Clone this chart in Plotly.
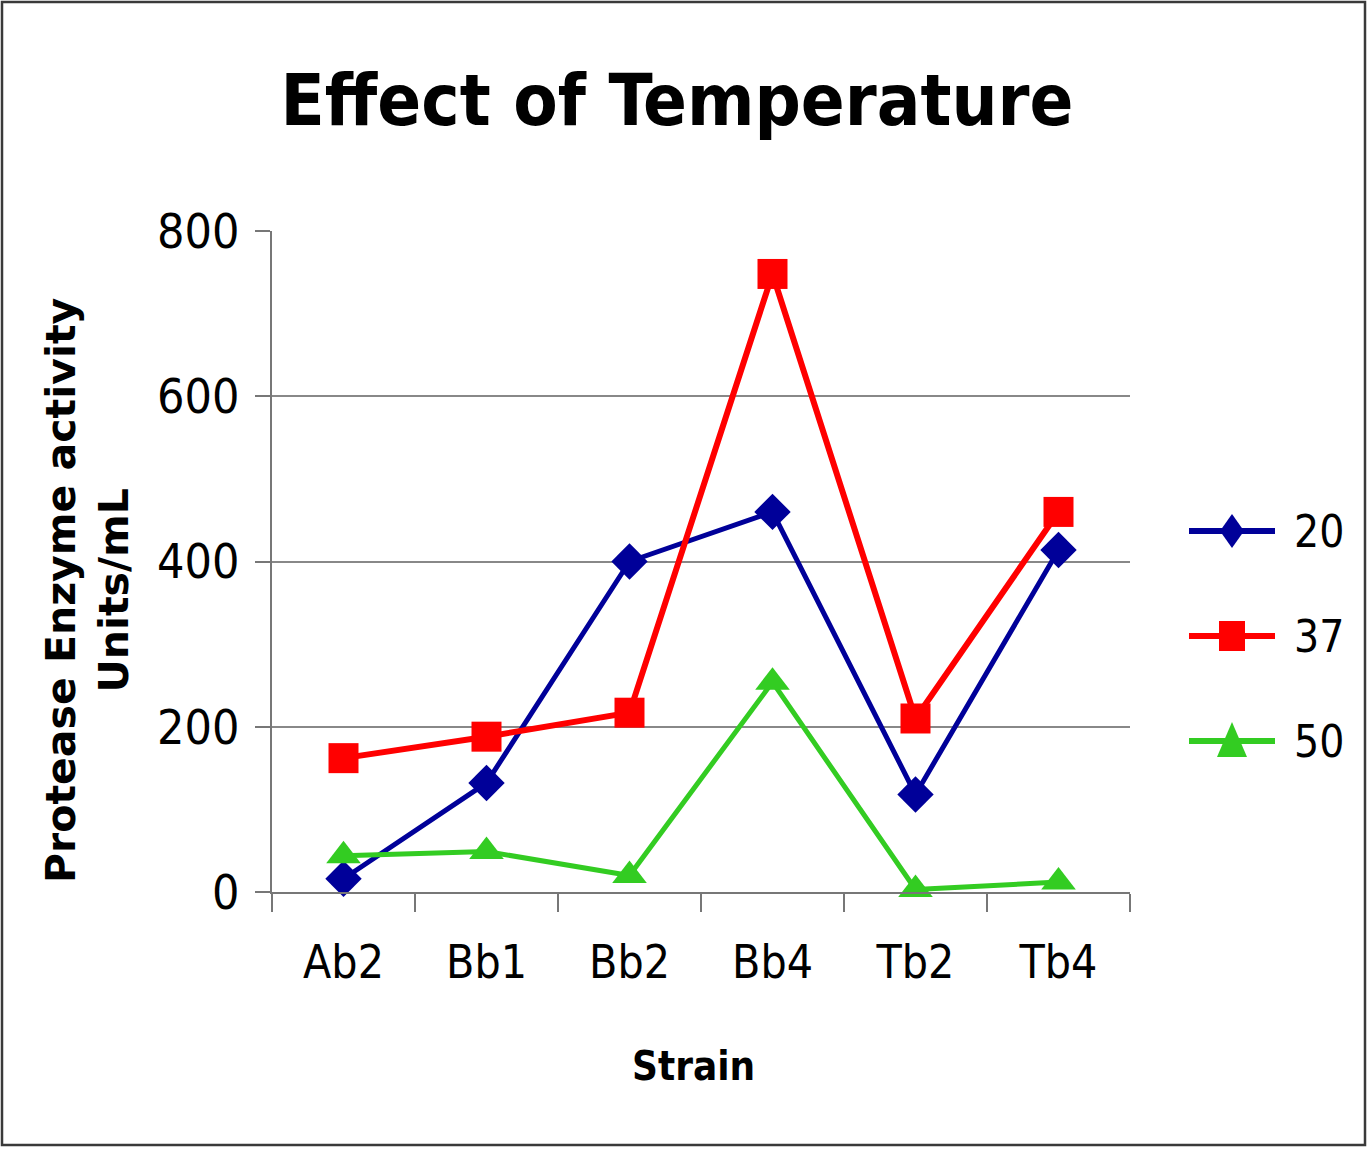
import plotly.graph_objects as go

strains = ["Ab2", "Bb1", "Bb2", "Bb4", "Tb2", "Tb4"]
t20 = [16, 132, 400, 460, 118, 414]
t37 = [162, 188, 217, 748, 210, 460]
t50 = [44, 49, 20, 254, 3, 12]
y_ticks = [0, 200, 400, 600, 800]
legend_names = ["20", "37", "50"]

W, H = 1368, 1149
L, R, T, B = 272, 238, 231, 257
pw, ph = W - L - R, H - T - B

def px(x):
    return (x - L) / pw

def py(y):
    return 1 - (y - T) / ph

COND = "DejaVu Sans Condensed, DejaVu Sans, sans-serif"
BOLD = "DejaVu Sans, sans-serif"

fig = go.Figure()
series = [
    ("20", t20, "#000099", "diamond", 28, 5),
    ("37", t37, "#ff0000", "square", 30, 6),
    ("50", t50, "#33cc22", "triangle-up", 30, 5),
]
for name, vals, col, sym, ms, lw in series:
    fig.add_trace(go.Scatter(
        x=strains, y=vals, name=name,
        mode="lines+markers",
        line=dict(color=col, width=lw),
        marker=dict(symbol=sym, size=ms, color=col, line=dict(width=0)),
        cliponaxis=False, showlegend=False,
    ))

# outer border
fig.add_shape(type="rect", xref="paper", yref="paper",
              x0=px(2), x1=px(W - 3), y0=py(H - 4), y1=py(2),
              line=dict(color="#3a3a3a", width=2.5))

# legend (drawn to match large legend symbols)
leg_y = [531, 636, 741]
for (name, vals, col, sym, ms, lw), cy in zip(series, leg_y):
    fig.add_shape(type="line", xref="paper", yref="paper",
                  x0=px(1189), x1=px(1275), y0=py(cy), y1=py(cy),
                  line=dict(color=col, width=6))
    cx = 1232
    if sym.startswith("diamond"):
        pts = [(cx, cy - 17), (cx + 12, cy), (cx, cy + 17), (cx - 12, cy)]
    elif sym == "square":
        pts = [(cx - 13, cy - 15), (cx + 13, cy - 15), (cx + 13, cy + 15), (cx - 13, cy + 15)]
    else:
        pts = [(cx, cy - 19), (cx + 15, cy + 16), (cx - 15, cy + 16)]
    path = "M " + " L ".join(f"{px(a):.5f},{py(b):.5f}" for a, b in pts) + " Z"
    fig.add_shape(type="path", xref="paper", yref="paper", path=path,
                  fillcolor=col, line=dict(width=0))
    fig.add_annotation(xref="paper", yref="paper", x=px(1292), y=py(cy),
                       xanchor="left", yanchor="middle", showarrow=False,
                       text=name, font=dict(family=COND, size=44, color="black"))

# axis titles
fig.add_annotation(xref="paper", yref="paper", x=px(693), y=py(1066),
                   xanchor="center", yanchor="middle", showarrow=False,
                   text="<b>Strain</b>", font=dict(family=COND, size=40, color="black"))
fig.add_annotation(xref="paper", yref="paper", x=px(87), y=py(591),
                   xanchor="center", yanchor="middle", showarrow=False, textangle=-90,
                   text="<b>Protease Enzyme activity<br>Units/mL</b>",
                   font=dict(family=BOLD, size=41, color="black"))

fig.update_layout(
    width=W, height=H,
    margin=dict(l=L, r=R, t=T, b=B, autoexpand=False),
    paper_bgcolor="white", plot_bgcolor="white",
    title=dict(text="<b>Effect of Temperature</b>", x=677 / W, xanchor="center",
               xref="container", y=1 - 100 / H, yanchor="middle",
               font=dict(family=COND, size=72, color="black")),
    showlegend=False,
    xaxis=dict(
        type="category", categoryorder="array", categoryarray=strains,
        range=[-0.5, len(strains) - 0.5], autorange=False,
        showline=True, linecolor="#777777", linewidth=2,
        ticks="outside", tickson="boundaries", ticklen=18, tickcolor="#777777", tickwidth=2,
        showgrid=False, zeroline=False, ticklabelstandoff=29,
        tickfont=dict(family=COND, size=46, color="black"),
    ),
    yaxis=dict(
        range=[0, 800], tickvals=y_ticks, autorange=False,
        showline=True, linecolor="#777777", linewidth=2,
        ticks="outside", ticklen=15, tickcolor="#777777", tickwidth=2,
        showgrid=True, gridcolor="#888888", gridwidth=1.5, zeroline=False,
        ticklabelstandoff=6,
        tickfont=dict(family=COND, size=48, color="black"),
    ),
)

fig.write_html("out.html", config={"displayModeBar": False},
               post_script="document.body.style.margin='0';")
